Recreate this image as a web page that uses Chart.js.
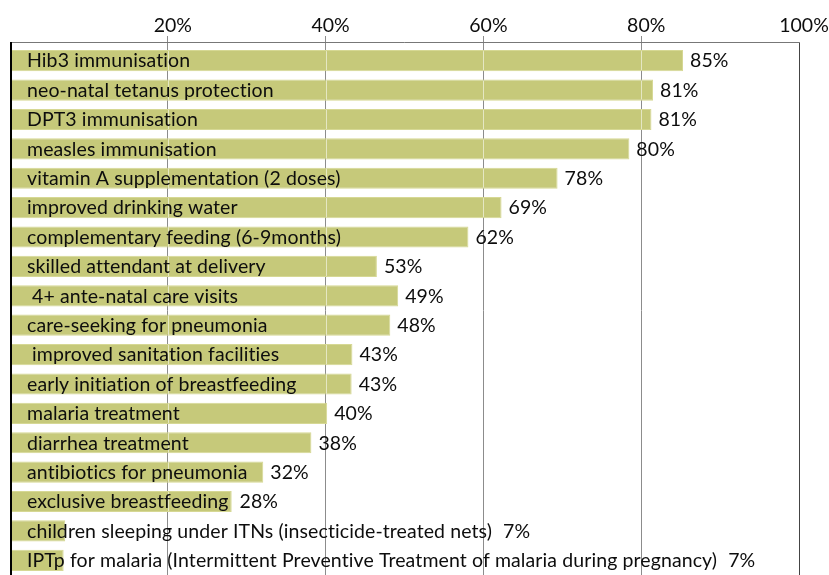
<!DOCTYPE html>
<html>
<head>
<meta charset="utf-8">
<script src="https://cdn.jsdelivr.net/npm/chart.js@4.4.1/dist/chart.umd.min.js"></script>
<style>
  html, body { margin: 0; padding: 0; background: #fff; overflow: hidden; }
  #wrap { position: relative; width: 829px; height: 575px; }
</style>
</head>
<body>
<div id="wrap"><canvas id="coverageChart"></canvas></div>
<script>
// indicators, top to bottom
const indicators = [
  'Hib3 immunisation',
  'neo-natal tetanus protection',
  'DPT3 immunisation',
  'measles immunisation',
  'vitamin A supplementation (2 doses)',
  'improved drinking water',
  'complementary feeding (6-9months)',
  'skilled attendant at delivery',
  ' 4+ ante-natal care visits',
  'care-seeking for pneumonia',
  ' improved sanitation facilities',
  'early initiation of breastfeeding',
  'malaria treatment',
  'diarrhea treatment',
  'antibiotics for pneumonia',
  'exclusive breastfeeding',
  'children sleeping under ITNs (insecticide-treated nets)',
  'IPTp for malaria (Intermittent Preventive Treatment of malaria during pregnancy)'
];

// bar lengths as drawn in the picture
const coverage = [85.3, 81.5, 81.3, 78.5, 69.4, 62.3, 58.1, 46.5, 49.2, 48.2, 43.4, 43.3, 40.2, 38.2, 32.1, 28.1, 7.0, 6.8];

// printed value labels
const valueLabels = ['85%', '81%', '81%', '80%', '78%', '69%', '62%', '53%', '49%', '48%', '43%', '43%', '40%', '38%', '32%', '28%', '7%', '7%'];

const xTicks = [0, 20, 40, 60, 80, 100];

const FONT = 'Lato, "DejaVu Sans", sans-serif';
const TEXT_SIZE = 19.5;

// faint light seams where the gridlines cross the bars, then the text
const barText = {
  id: 'barText',
  afterDatasetsDraw(chart) {
    const ctx = chart.ctx;
    const area = chart.chartArea;
    const xs = chart.scales.x;
    const meta = chart.getDatasetMeta(0);
    ctx.save();
    ctx.strokeStyle = 'rgba(255,255,255,0.55)';
    ctx.lineWidth = 1;
    meta.data.forEach(bar => {
      const h = bar.height;
      [20, 40, 60, 80].forEach(t => {
        const gx = Math.round(xs.getPixelForValue(t)) + 0.5;
        if (gx < bar.x - 1) {
          ctx.beginPath();
          ctx.moveTo(gx, bar.y - h / 2 + 1);
          ctx.lineTo(gx, bar.y + h / 2 - 1);
          ctx.stroke();
        }
      });
    });

    ctx.font = TEXT_SIZE + 'px ' + FONT;
    ctx.fillStyle = '#0d0d0d';
    ctx.textBaseline = 'middle';
    ctx.textAlign = 'left';
    ctx.letterSpacing = '0.1px';
    const textX = area.left + 17;
    meta.data.forEach((bar, i) => {
      const label = indicators[i];
      ctx.fillText(label, textX, bar.y + 0.5);
      const textEnd = textX + ctx.measureText(label).width;
      const vx = Math.max(bar.x + 7, textEnd + 11);
      ctx.fillText(valueLabels[i], vx, bar.y + 0.5);
    });
    ctx.restore();
  },
  afterDraw(chart) {
    const ctx = chart.ctx;
    const area = chart.chartArea;
    const topY = area.top - 3.5;
    ctx.save();
    ctx.strokeStyle = '#777';
    ctx.lineWidth = 1;
    ctx.beginPath();
    ctx.moveTo(area.left, topY);
    ctx.lineTo(area.right + 0.5, topY);
    ctx.stroke();
    ctx.strokeStyle = '#444';
    ctx.beginPath();
    ctx.moveTo(Math.round(area.right) + 0.5, topY);
    ctx.lineTo(Math.round(area.right) + 0.5, chart.height);
    ctx.stroke();
    ctx.strokeStyle = '#000';
    ctx.lineWidth = 2;
    ctx.beginPath();
    ctx.moveTo(area.left + 1, topY - 0.5);
    ctx.lineTo(area.left + 1, chart.height);
    ctx.stroke();
    ctx.restore();
  }
};

const ctx = document.getElementById('coverageChart').getContext('2d');
new Chart(ctx, {
  type: 'bar',
  data: {
    labels: indicators,
    datasets: [{
      data: coverage,
      backgroundColor: '#c6c97a',
      borderColor: '#d6d894',
      borderWidth: 1,
      borderSkipped: false,
      categoryPercentage: 1.0,
      barPercentage: 0.72
    }]
  },
  options: {
    indexAxis: 'y',
    responsive: true,
    maintainAspectRatio: false,
    animation: false,
    layout: { padding: { left: 0, right: 30, top: 0, bottom: 0 } },
    plugins: {
      legend: { display: false },
      tooltip: { enabled: false }
    },
    scales: {
      x: {
        position: 'top',
        min: 0,
        max: 100,
        afterBuildTicks: axis => { axis.ticks = xTicks.map(v => ({ value: v })); },
        afterFit: axis => { axis.height = 46; },
        border: { display: false },
        grid: {
          color: c => (c.tick && c.tick.value === 100) ? '#444' : (c.tick && c.tick.value === 0 ? 'rgba(0,0,0,0)' : '#8c8c8c'),
          tickColor: c => (c.tick && (c.tick.value === 0 || c.tick.value === 100)) ? 'rgba(0,0,0,0)' : '#8c8c8c',
          lineWidth: 1,
          tickLength: 10,
          drawTicks: true
        },
        ticks: {
          callback: v => v === 0 ? '' : v + '%',
          color: '#0d0d0d',
          font: { family: FONT, size: TEXT_SIZE },
          padding: -1,
          labelOffset: 5,
          maxRotation: 0,
          autoSkip: false
        }
      },
      y: {
        afterFit: axis => { axis.width = 10; },
        border: { display: false },
        grid: { display: false },
        ticks: { display: false }
      }
    }
  },
  plugins: [barText]
});
</script>
</body>
</html>
